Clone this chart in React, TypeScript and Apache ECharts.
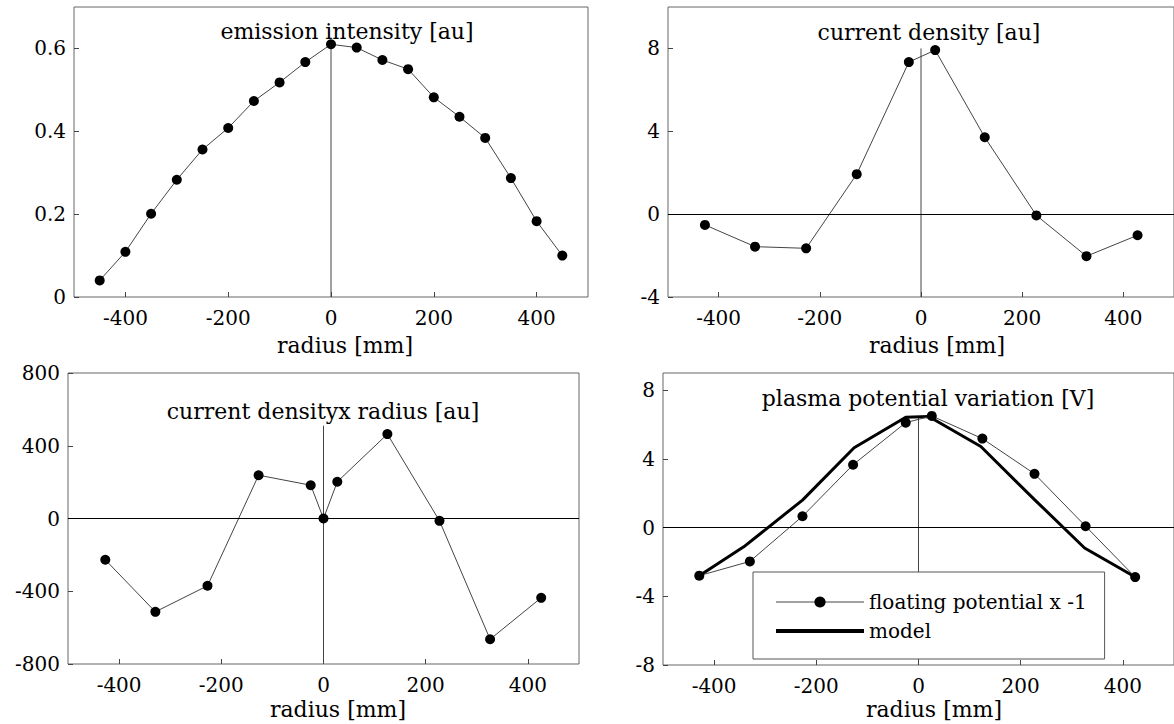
import React, { useEffect, useRef } from "react";
import * as echarts from "echarts";

// Radial profiles (radius in mm)
const emissionRadius = [-450, -400, -350, -300, -250, -200, -150, -100, -50, 0, 50, 100, 150, 200, 250, 300, 350, 400, 450];
const emissionIntensity = [0.04, 0.109, 0.201, 0.283, 0.356, 0.408, 0.473, 0.518, 0.567, 0.61, 0.602, 0.572, 0.55, 0.482, 0.435, 0.384, 0.287, 0.183, 0.1];

const densityRadius = [-427, -328, -227, -127, -24, 28, 126, 228, 327, 428];
const currentDensity = [-0.52, -1.57, -1.65, 1.93, 7.34, 7.92, 3.71, -0.06, -2.03, -1.02];

const productRadius = [-427, -329, -227, -127, -25, 0, 27, 125, 227, 326, 426];
const densityTimesRadius = [-227, -513, -370, 238, 183, 0, 202, 464, -13, -664, -436];

const floatingRadius = [-429, -330, -227, -128, -25, 26, 125, 227, 327, 424];
const floatingPotential = [-2.8, -1.97, 0.66, 3.66, 6.11, 6.5, 5.18, 3.13, 0.08, -2.88];

const modelRadius = [-429, -342, -227, -126, -25, 20, 122, 227, 325, 424];
const modelPotential = [-2.8, -1.12, 1.6, 4.65, 6.42, 6.47, 4.72, 1.63, -1.19, -2.88];

// Vertical centre-line extents (from, to) for each panel
const centreEmission = [0, 0.61];
const centreDensity = [-4, 8];
const centreProduct = [-800, 510];
const centrePotential = [-8, 6.47];

// Axis ranges and tick values
const radiusRange = [-500, 500];
const radiusTicks = [-400, -200, 0, 200, 400];
const emissionRange = [0, 0.7];
const emissionTicks = [0, 0.2, 0.4, 0.6];
const densityRange = [-4, 10];
const densityTicks = [-4, 0, 4, 8];
const productRange = [-800, 800];
const productTicks = [-800, -400, 0, 400, 800];
const potentialRange = [-8, 9];
const potentialTicks = [-8, -4, 0, 4, 8];

const panelTitles = [
  "emission intensity [au]",
  "current density [au]",
  "current densityx radius [au]",
  "plasma potential variation [V]",
];
const radiusName = "radius [mm]";
const floatingName = "floating potential x -1";
const modelName = "model";

const FONT = '"DejaVu Serif", "Liberation Serif", serif';

const zip = (xs: number[], ys: number[]) => xs.map((x, i) => [x, ys[i]]);

const grids = [
  { left: 74, top: 7, width: 514, height: 290 },
  { left: 668, top: 7, width: 510, height: 290 },
  { left: 68, top: 373, width: 511, height: 291 },
  { left: 663, top: 373, width: 515, height: 292 },
];

function xAxisFor(i: number) {
  return {
    type: "value",
    gridIndex: i,
    min: radiusRange[0],
    max: radiusRange[1],
    splitLine: { show: false },
    axisLine: { show: false, onZero: false },
    axisTick: { show: true, inside: true, length: 5, customValues: radiusTicks, lineStyle: { color: "#444" } },
    axisLabel: { customValues: radiusTicks, margin: 11, color: "#000", fontFamily: FONT, fontSize: 20 },
  };
}

function yAxisFor(i: number, range: number[], ticks: number[]) {
  return {
    type: "value",
    gridIndex: i,
    min: range[0],
    max: range[1],
    splitLine: { show: false },
    axisLine: { show: false, onZero: false },
    axisTick: { show: true, inside: true, length: 5, customValues: ticks, lineStyle: { color: "#444" } },
    axisLabel: { customValues: ticks, margin: 8, color: "#000", fontFamily: FONT, fontSize: 20 },
  };
}

const zeroLine = {
  symbol: ["none", "none"],
  silent: true,
  label: { show: false },
  lineStyle: { color: "#000", width: 1, type: "solid" },
  data: [{ yAxis: 0 }],
};

function dataSeries(i: number, name: string, xs: number[], ys: number[]) {
  return {
    type: "line",
    name,
    xAxisIndex: i,
    yAxisIndex: i,
    data: zip(xs, ys),
    symbol: "circle",
    symbolSize: 10,
    itemStyle: { color: "#000" },
    lineStyle: { color: "#444", width: 1 },
    z: 4,
  };
}

function centreSeries(i: number, ext: number[], withZero: boolean) {
  const s: any = {
    type: "line",
    xAxisIndex: i,
    yAxisIndex: i,
    data: [[0, ext[0]], [0, ext[1]]],
    symbol: "none",
    silent: true,
    lineStyle: { color: "#444", width: 1 },
    z: 2,
  };
  if (withZero) s.markLine = zeroLine;
  return s;
}

function textEl(text: string, x: number, y: number, size: number) {
  return {
    type: "text",
    x,
    y,
    silent: true,
    style: {
      text,
      fill: "#000",
      font: `${size}px ${FONT}`,
      textAlign: "center",
      textVerticalAlign: "middle",
    },
  };
}

export default function App() {
  const ref = useRef<HTMLDivElement>(null);

  useEffect(() => {
    if (!ref.current) return;
    const chart = echarts.init(ref.current, null, { renderer: "svg" });
    chart.setOption({
      animation: false,
      backgroundColor: "#fff",
      grid: grids.map((g) => ({ ...g, show: true, borderColor: "#666", borderWidth: 1, backgroundColor: "transparent" })),
      xAxis: [0, 1, 2, 3].map(xAxisFor),
      yAxis: [
        yAxisFor(0, emissionRange, emissionTicks),
        yAxisFor(1, densityRange, densityTicks),
        yAxisFor(2, productRange, productTicks),
        yAxisFor(3, potentialRange, potentialTicks),
      ],
      legend: {
        data: [
          { name: floatingName, lineStyle: { width: 1, color: "#444" } },
          { name: modelName, itemStyle: { opacity: 0 }, lineStyle: { width: 4, color: "#000", opacity: 1 } },
        ],
        orient: "vertical",
        left: 753,
        top: 572,
        padding: [20, 18, 18, 21],
        itemWidth: 88,
        itemHeight: 14,
        itemGap: 9,
        backgroundColor: "#fff",
        borderColor: "#555",
        borderWidth: 1,
        selectedMode: false,
        textStyle: { fontFamily: FONT, fontSize: 20, color: "#000" },
      },
      series: [
        centreSeries(0, centreEmission, false),
        dataSeries(0, "emission", emissionRadius, emissionIntensity),
        centreSeries(1, centreDensity, true),
        dataSeries(1, "density", densityRadius, currentDensity),
        centreSeries(2, centreProduct, true),
        dataSeries(2, "product", productRadius, densityTimesRadius),
        centreSeries(3, centrePotential, true),
        dataSeries(3, floatingName, floatingRadius, floatingPotential),
        {
          type: "line",
          name: modelName,
          xAxisIndex: 3,
          yAxisIndex: 3,
          data: zip(modelRadius, modelPotential),
          symbol: "none",
          itemStyle: { color: "#000" },
          lineStyle: { color: "#000", width: 3 },
          z: 3,
        },
      ],
      graphic: [
        textEl(panelTitles[0], 347, 31, 22),
        textEl(panelTitles[1], 929, 32, 22),
        textEl(panelTitles[2], 323, 411, 22),
        textEl(panelTitles[3], 928, 398, 22),
        textEl(radiusName, 345, 345, 22),
        textEl(radiusName, 937, 345, 22),
        textEl(radiusName, 338, 709, 22),
        textEl(radiusName, 934, 709, 22),
      ],
    });
    return () => chart.dispose();
  }, []);

  return <div ref={ref} style={{ position: "fixed", left: 0, top: 0, width: 1174, height: 724 }} />;
}
